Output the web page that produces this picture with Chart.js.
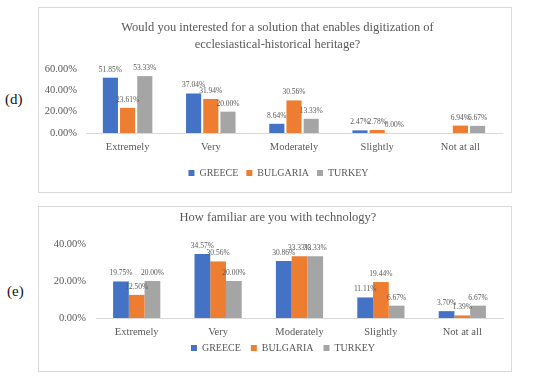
<!DOCTYPE html>
<html>
<head>
<meta charset="utf-8">
<script src="https://cdn.jsdelivr.net/npm/chart.js"></script>
<style>
  body { margin: 0; background: #fff; width: 550px; height: 378px; position: relative; overflow: hidden; }
  .box { position: absolute; left: 38px; width: 472px; border: 1px solid #d9d9d9; background: #fff; }
  .tag { position: absolute; font-family: "Liberation Serif", serif; font-size: 15px; color: #111; }
</style>
</head>
<body>
<div class="tag" style="left:5px; top:91px;">(d)</div>
<div class="box" style="top:7px; height:184px;"><canvas id="chartD"></canvas></div>
<div class="tag" style="left:7px; top:283px;">(e)</div>
<div class="box" style="top:206px; height:164px;"><canvas id="chartE"></canvas></div>
<script>
let categories = ["Extremely", "Very", "Moderately", "Slightly", "Not at all"];
let countries = ["GREECE", "BULGARIA", "TURKEY"];
let colors = ["#4472C4", "#ED7D31", "#A5A5A5"];

//(d) interest in digitization
let greeceD = [51.85, 37.04, 8.64, 2.47, null];
let bulgariaD = [23.61, 31.94, 30.56, 2.78, 6.94];
let turkeyD = [53.33, 20.00, 13.33, 0.00, 6.67];
let ticksD = [0, 20, 40, 60];

//(e) familiarity with technology
let greeceE = [19.75, 34.57, 30.86, 11.11, 3.70];
let bulgariaE = [12.50, 30.56, 33.33, 19.44, 1.39];
let turkeyE = [20.00, 20.00, 33.33, 6.67, 6.67];
let ticksE = [0, 20, 40];

let textColor = "#595959";
let serif = "'Liberation Serif', serif";

// value labels above the bars
let barLabels = {
    id: "barLabels",
    afterDatasetsDraw: function(chart) {
        let ctx = chart.ctx;
        ctx.save();
        ctx.font = "7.5px " + serif;
        ctx.fillStyle = textColor;
        ctx.textAlign = "center";
        ctx.textBaseline = "middle";
        chart.data.datasets.forEach(function(ds, i) {
            chart.getDatasetMeta(i).data.forEach(function(bar, j) {
                let v = ds.data[j];
                if (v === null) return;
                ctx.fillText(v.toFixed(2) + "%", bar.x, bar.y - 8);
            });
        });
        ctx.restore();
    },
};

// nudge title / legend boxes after layout (excel centres them a bit differently)
function shiftBoxes(dxTitle, dxLegend, dyLegend) {
    return {
        id: "shiftBoxes",
        afterLayout: function(chart) {
            let t = chart.titleBlock;
            t.left += dxTitle;
            t.right += dxTitle;
            let l = chart.legend;
            l.left += dxLegend;
            l.right += dxLegend;
            l.top += dyLegend;
            l.bottom += dyLegend;
        },
    };
}

function makeDatasets(series, catPct, barPct) {
    return series.map(function(values, i) {
        return {
            label: countries[i],
            data: values,
            backgroundColor: colors[i],
            categoryPercentage: catPct,
            barPercentage: barPct,
        };
    });
}

function makeOptions(cfg) {
    return {
        responsive: true,
        maintainAspectRatio: false,
        animation: false,
        layout: {
            padding: { top: 0, right: cfg.padRight, bottom: cfg.padBottom, left: 0 },
        },
        plugins: {
            title: {
                display: true,
                text: cfg.title,
                color: textColor,
                font: { family: serif, size: 12.5, weight: "normal", lineHeight: 1.3 },
                padding: { top: cfg.titleTop, bottom: cfg.titleBottom },
            },
            legend: {
                position: "bottom",
                labels: {
                    boxWidth: 6,
                    boxHeight: 6,
                    padding: cfg.legendPad,
                    color: textColor,
                    font: { family: serif, size: 10 },
                },
            },
            tooltip: { enabled: false },
        },
        scales: {
            x: {
                grid: { display: false, drawTicks: false },
                border: { display: true, color: "#D9D9D9" },
                ticks: { color: textColor, padding: 8, font: { family: serif, size: 10.5 } },
                afterFit: function(scale) { scale.height = cfg.xHeight; },
            },
            y: {
                min: 0,
                max: cfg.ticks[cfg.ticks.length - 1],
                grid: { display: false, drawTicks: false },
                border: { display: false },
                afterBuildTicks: function(scale) {
                    scale.ticks = cfg.ticks.map(function(v) { return { value: v }; });
                },
                ticks: {
                    color: textColor,
                    padding: cfg.yPad,
                    font: { family: serif, size: 10.5 },
                    callback: function(v) { return v.toFixed(2) + "%"; },
                },
                afterFit: function(scale) { scale.width = cfg.yWidth; },
            },
        },
    };
}

new Chart(document.getElementById("chartD").getContext("2d"), {
    type: "bar",
    data: {
        labels: categories,
        datasets: makeDatasets([greeceD, bulgariaD, turkeyD], 0.62, 0.88),
    },
    options: makeOptions({
        title: ["Would you interested for a solution that enables digitization of", "ecclesiastical-historical heritage?"],
        titleTop: 12, titleBottom: 16.5,
        padRight: 9, padBottom: 4,
        legendPad: 8, xHeight: 27,
        yWidth: 47, yPad: 9,
        ticks: ticksD,
    }),
    plugins: [barLabels, shiftBoxes(7, 8, 0)],
});

new Chart(document.getElementById("chartE").getContext("2d"), {
    type: "bar",
    data: {
        labels: categories,
        datasets: makeDatasets([greeceE, bulgariaE, turkeyE], 0.58, 1.0),
    },
    options: makeOptions({
        title: "How familiar are you with technology?",
        titleTop: 3, titleBottom: 17.75,
        padRight: 8, padBottom: 2,
        legendPad: 10, xHeight: 21,
        yWidth: 57, yPad: 10,
        ticks: ticksE,
    }),
    plugins: [barLabels, shiftBoxes(7, 12, -6)],
});
</script>
</body>
</html>
